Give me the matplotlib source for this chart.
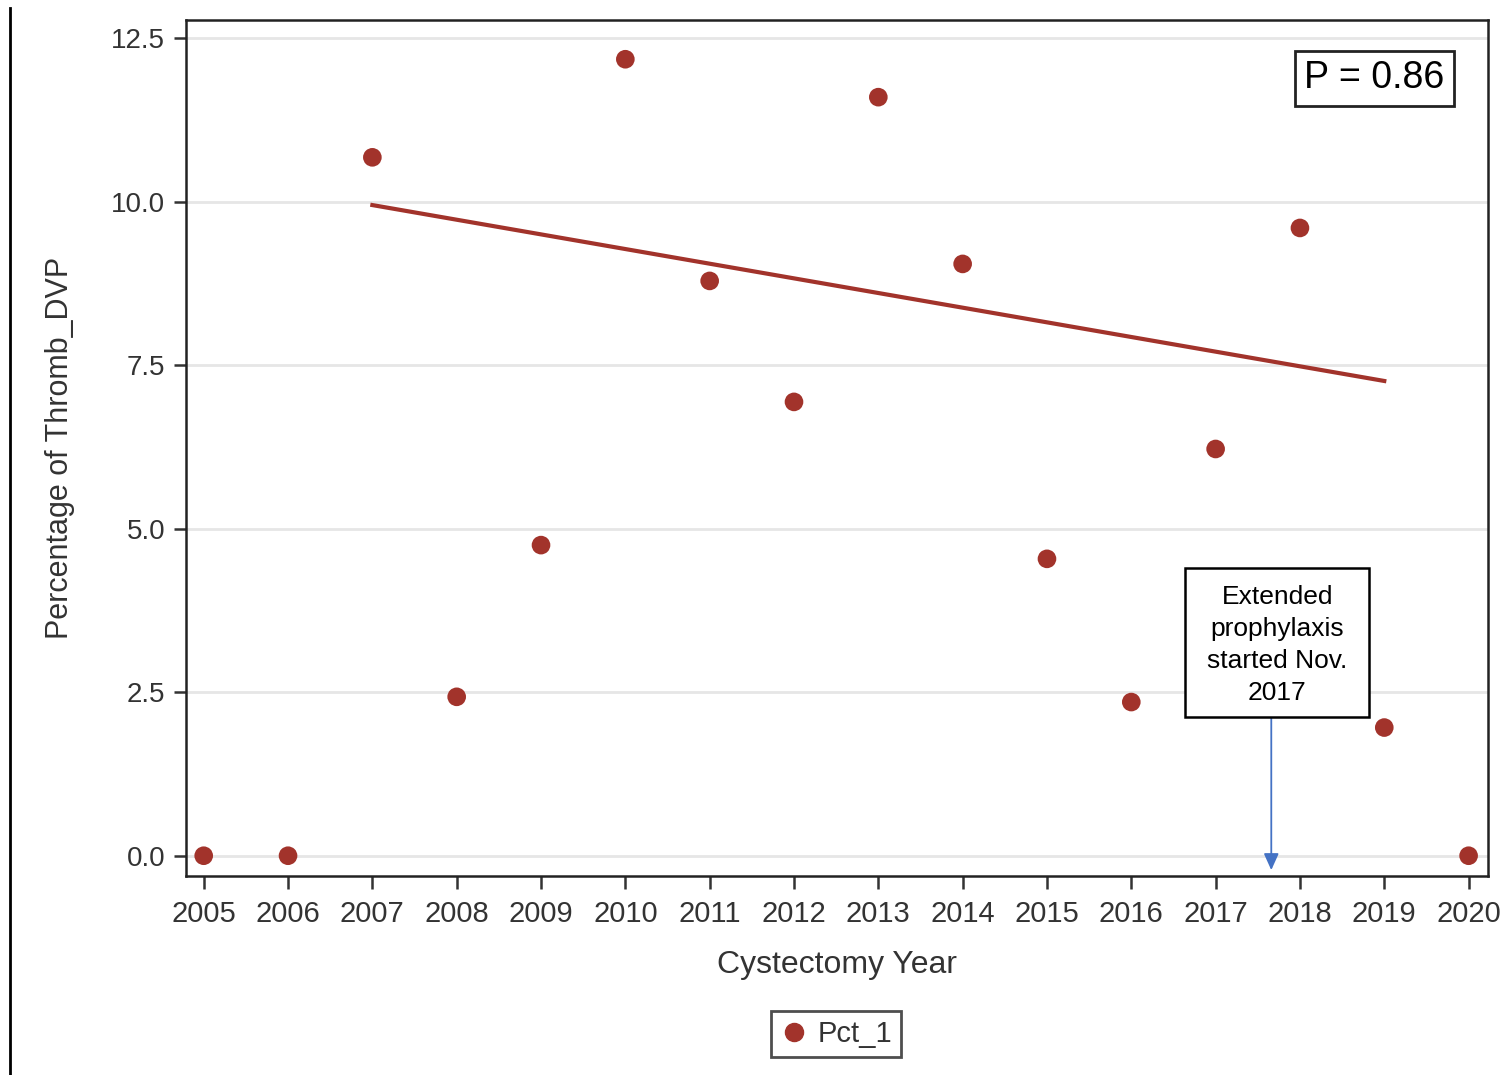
import numpy as np
import matplotlib
matplotlib.use('Agg')
import matplotlib.pyplot as plt
from matplotlib.lines import Line2D
from matplotlib.patches import Rectangle

years = [2005, 2006, 2007, 2008, 2009, 2010, 2011, 2012, 2013, 2014, 2015, 2016, 2017, 2018, 2019, 2020]
pct = [0.0, 0.0, 10.68, 2.43, 4.75, 12.18, 8.79, 6.94, 11.60, 9.05, 4.54, 2.35, 6.22, 9.60, 1.96, 0.0]
trend_x = [2007, 2019]
trend_y = [9.95, 7.26]
yticks = [0.0, 2.5, 5.0, 7.5, 10.0, 12.5]

red = '#A2332B'
plt.rcParams['font.family'] = ['Liberation Sans', 'DejaVu Sans']

fig = plt.figure(figsize=(15.04, 10.75), dpi=100)
ax = fig.add_axes([186/1504, 1 - 876/1075, (1488-186)/1504, (876-20)/1075])

ax.set_xlim(2004.79, 2020.23)
ax.set_ylim(-0.31, 12.78)
ax.set_yticks(yticks)
ax.set_yticklabels([f'{v:.1f}' for v in yticks])
ax.set_xticks(years)
ax.grid(axis='y', color='#E6E6E6', linewidth=2)
ax.set_axisbelow(True)
for s in ax.spines.values():
    s.set_linewidth(1.8)
    s.set_color('#222222')
ax.tick_params(colors='#333333', length=9, width=1.8)
ax.tick_params(axis='x', pad=8, labelsize=21)
ax.tick_params(axis='y', pad=6, labelsize=20)

ax.plot(trend_x, trend_y, color=red, linewidth=3, zorder=3)
ax.scatter(years, pct, s=180, color=red, edgecolors='none', zorder=4)

ax.set_xlabel('Cystectomy Year', fontsize=23, color='#333333', labelpad=16)
ax.set_ylabel('Percentage of Thromb_DVP', fontsize=22, color='#333333', labelpad=26)

ax.text(0.9125, 0.932, 'P = 0.86', transform=ax.transAxes, fontsize=27, ha='center', va='center',
        bbox=dict(boxstyle='square,pad=0.25', facecolor='white', edgecolor='#222222', linewidth=2), zorder=5)

# annotation box + arrow
ax.add_patch(Rectangle((2016.64, 2.12), 2.18, 2.28, facecolor='white', edgecolor='black',
                       linewidth=1.8, zorder=6))
ax.text(2017.73, 3.22, 'Extended\nprophylaxis\nstarted Nov.\n2017', fontsize=19, ha='center', va='center',
        linespacing=1.42, zorder=7)
ax.annotate('', xy=(2017.66, -0.22), xytext=(2017.66, 2.12),
            arrowprops=dict(arrowstyle='-|>,head_width=0.45,head_length=1.0', color='#4472C4', linewidth=1.3,
                            shrinkA=0, shrinkB=0),
            zorder=5)

handle = Line2D([], [], marker='o', linestyle='none', color=red, markersize=13, label='Pct_1')
leg = fig.legend(handles=[handle], loc='center', bbox_to_anchor=(836/1504, 1 - 1034/1075), fontsize=21,
                 frameon=True, fancybox=False, edgecolor='#222222', handletextpad=0.3, borderpad=0.3,
                 handlelength=1.0)
leg.get_frame().set_linewidth(2)
for t in leg.get_texts():
    t.set_color('#333333')

fig.add_artist(Line2D([10/1504, 10/1504], [0, 1 - 8/1075], transform=fig.transFigure, color='black', linewidth=2))

fig.savefig('out.png', dpi=100)
